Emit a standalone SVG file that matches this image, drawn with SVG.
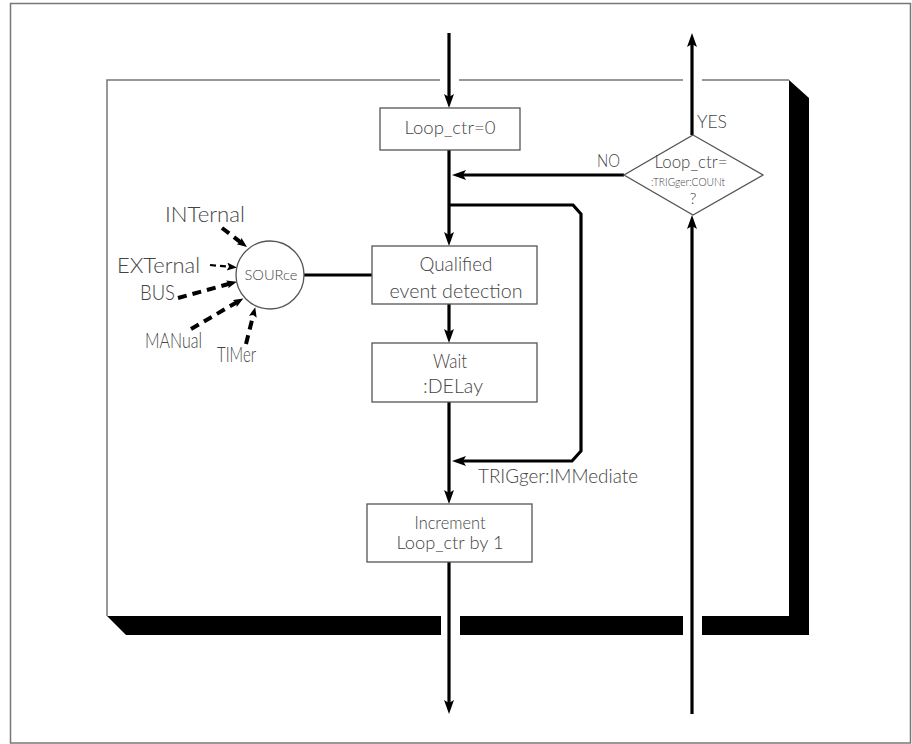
<svg xmlns="http://www.w3.org/2000/svg" width="912" height="744" viewBox="0 0 912 744">
  <defs>
    <style>
      .txt { font-family: "Lato", "Liberation Sans", Arial, sans-serif; font-weight: 300; fill: #444; }
      .box { fill: #fff; stroke: #555; stroke-width: 1.3; }
      .frame { fill: none; stroke: #777; stroke-width: 1.5; }
      .conn { fill: none; stroke: #000; stroke-width: 3.2; }
      .dash { fill: none; stroke: #000; stroke-width: 4; stroke-dasharray: 9 6; }
      .dashthin { fill: none; stroke: #000; stroke-width: 2.2; stroke-dasharray: 6 4; }
      .shadow { fill: #000; }
    </style>
    <marker id="arr" markerUnits="userSpaceOnUse" markerWidth="16" markerHeight="12" refX="8" refY="5" orient="auto">
      <path d="M0,0 L14,5 L0,10 L3,5 z" fill="#000"/>
    </marker>
    <marker id="arrs" markerUnits="userSpaceOnUse" markerWidth="12" markerHeight="10" refX="5" refY="4" orient="auto">
      <path d="M0,0 L10,4 L0,8 L2,4 z" fill="#000"/>
    </marker>
  </defs>

  <!-- outer frame -->
  <rect class="frame" x="10.5" y="3.5" width="900" height="739.5"/>

  <!-- inner panel with 3D shadow -->
  <g id="panel">
    <path class="frame" d="M107,616 L107,80 L440,80 M459,80 L683,80 M702,80 L789,80" stroke="#555"/>
    <polygon class="shadow" points="107,616 441,616 441,635 126,635"/>
    <polygon class="shadow" points="460,616 683,616 683,635 460,635"/>
    <polygon class="shadow" points="702,616 789,616 789,80 809,98 809,635 702,635"/>
  </g>

  <!-- connectors -->
  <g id="connectors">
    <path class="conn" d="M449,33 L449,102" marker-end="url(#arr)"/>
    <path class="conn" d="M449,150 L449,240" marker-end="url(#arr)"/>
    <path class="conn" d="M624,175 L458,175" marker-end="url(#arr)"/>
    <path class="conn" d="M449,205 L573,205 L581,214 L581,451 L572,461 L458,461" marker-end="url(#arr)"/>
    <path class="conn" d="M449,304 L449,337" marker-end="url(#arr)"/>
    <path class="conn" d="M449,402 L449,498" marker-end="url(#arr)"/>
    <path class="conn" d="M449,562 L449,708" marker-end="url(#arr)"/>
    <path class="conn" d="M692,714 L692,221" marker-end="url(#arr)"/>
    <path class="conn" d="M692,135 L692,39" marker-end="url(#arr)"/>
    <path class="conn" d="M304,275 L372,275"/>
    <path class="dash" d="M222,228 L243,244" marker-end="url(#arrs)"/>
    <path class="dashthin" d="M210,265 L232,267" marker-end="url(#arrs)"/>
    <path class="dash" d="M178,298 L232,283" marker-end="url(#arrs)"/>
    <path class="dash" d="M191,329 L239,301" marker-end="url(#arrs)"/>
    <path class="dash" d="M246,344 L254,312" marker-end="url(#arrs)"/>
  </g>

  <!-- nodes -->
  <g id="n-loop0">
    <rect class="box" x="380" y="108" width="140" height="42"/>
    <text class="txt" x="450" y="134" font-size="17" text-anchor="middle" textLength="91" lengthAdjust="spacingAndGlyphs">Loop_ctr=0</text>
  </g>

  <g id="n-decision">
    <polygon class="box" points="693,135 763,175 693,215 624,175"/>
    <text class="txt" x="691" y="168" font-size="17" text-anchor="middle" textLength="73" lengthAdjust="spacingAndGlyphs">Loop_ctr=</text>
    <text class="txt" x="688" y="186" font-size="11" text-anchor="middle" textLength="74" lengthAdjust="spacingAndGlyphs">:TRIGger:COUNt</text>
    <text class="txt" x="693" y="204" font-size="16" text-anchor="middle">?</text>
  </g>

  <g id="n-source">
    <circle cx="270" cy="275" r="34" fill="#fff" stroke="#555" stroke-width="1.3"/>
    <text class="txt" x="271" y="280" font-size="13.5" text-anchor="middle" textLength="53" lengthAdjust="spacingAndGlyphs">SOURce</text>
  </g>

  <g id="n-qualified">
    <rect class="box" x="372" y="246" width="165" height="58"/>
    <text class="txt" x="456" y="271" font-size="19.5" text-anchor="middle" textLength="73" lengthAdjust="spacingAndGlyphs">Qualified</text>
    <text class="txt" x="456" y="298" font-size="19.5" text-anchor="middle" textLength="133" lengthAdjust="spacingAndGlyphs">event detection</text>
  </g>

  <g id="n-wait">
    <rect class="box" x="372" y="343" width="165" height="59"/>
    <text class="txt" x="450" y="368" font-size="19.5" text-anchor="middle" textLength="34" lengthAdjust="spacingAndGlyphs">Wait</text>
    <text class="txt" x="453" y="393" font-size="19.5" text-anchor="middle" textLength="60" lengthAdjust="spacingAndGlyphs">:DELay</text>
  </g>

  <g id="n-increment">
    <rect class="box" x="367" y="504" width="165" height="58"/>
    <text class="txt" x="450" y="529" font-size="17" text-anchor="middle" textLength="71" lengthAdjust="spacingAndGlyphs">Increment</text>
    <text class="txt" x="450" y="549" font-size="17" text-anchor="middle" textLength="107" lengthAdjust="spacingAndGlyphs">Loop_ctr by 1</text>
  </g>

  <!-- labels -->
  <g id="labels">
    <text class="txt" x="697" y="128" font-size="18" textLength="30" lengthAdjust="spacingAndGlyphs">YES</text>
    <text class="txt" x="597" y="167" font-size="18" textLength="23" lengthAdjust="spacingAndGlyphs">NO</text>
    <text class="txt" x="478" y="483" font-size="19" textLength="160" lengthAdjust="spacingAndGlyphs">TRIGger:IMMediate</text>
    <text class="txt" x="165" y="222" font-size="21" textLength="80" lengthAdjust="spacingAndGlyphs">INTernal</text>
    <text class="txt" x="117" y="273" font-size="21" textLength="83" lengthAdjust="spacingAndGlyphs">EXTernal</text>
    <text class="txt" x="140" y="300" font-size="21" textLength="35" lengthAdjust="spacingAndGlyphs">BUS</text>
    <text class="txt" x="145" y="348" font-size="21" textLength="57" lengthAdjust="spacingAndGlyphs">MANual</text>
    <text class="txt" x="217" y="362" font-size="21" textLength="39" lengthAdjust="spacingAndGlyphs">TIMer</text>
  </g>
</svg>
